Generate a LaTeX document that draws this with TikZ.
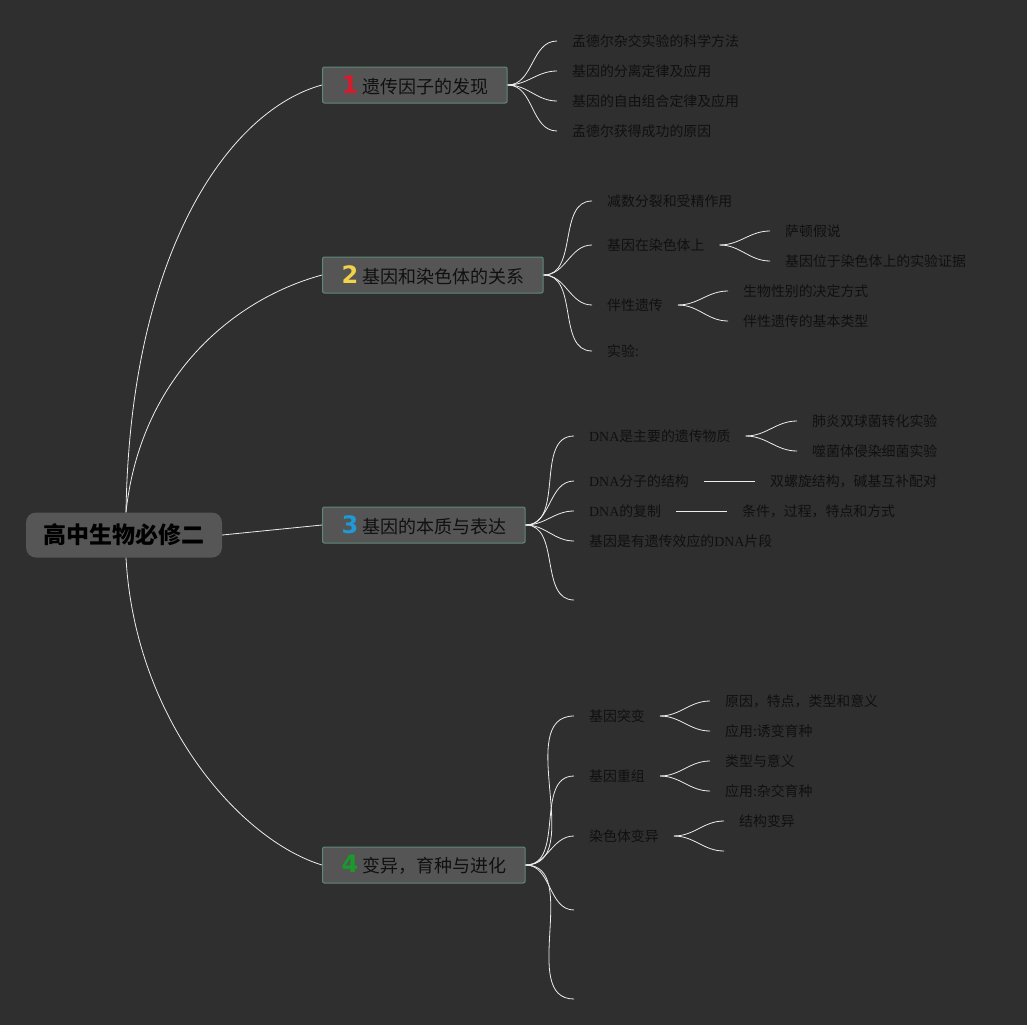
\documentclass[tikz,border=0pt]{standalone}
\usepackage{fontspec}
\setmainfont{Liberation Serif}
\newfontfamily\cjk{Noto Sans CJK SC}
\newfontfamily\numfont{DejaVu Sans}
\newcommand{\lat}[1]{{\rmfamily #1}}
\definecolor{mapbg}{HTML}{2F2F2F}
\definecolor{topicfill}{HTML}{555555}
\definecolor{topicdraw}{HTML}{5F8A78}
\definecolor{rootfill}{HTML}{565656}
\definecolor{inkcolor}{HTML}{101010}
\definecolor{linkcolor}{HTML}{EDEDED}
\definecolor{numred}{HTML}{D81A2E}
\definecolor{numyellow}{HTML}{F2D24A}
\definecolor{numblue}{HTML}{1E9AD6}
\definecolor{numgreen}{HTML}{1A9A2A}
\tikzset{
    x={1pt},
    y={-1pt},
    map background/.style={
        fill=mapbg,
    },
    root topic/.style={
        fill=rootfill,
        rounded corners={10pt},
        minimum width={196},
        minimum height={45},
        font={\cjk\fontsize{23}{25}\selectfont\bfseries},
        text=black,
    },
    main topic/.style={
        fill=topicfill, draw=topicdraw,
        line width={1pt},
        rounded corners={2pt},
        anchor=west,
        minimum height={36},
        inner xsep=19pt,
        inner ysep=0pt,
        font={\cjk\fontsize{18}{20}\selectfont},
        text=inkcolor,
    },
    leaf/.style={
        anchor=west,
        inner xsep=15pt,
        inner ysep=2pt,
        font={\cjk\fontsize{13.9}{15}\selectfont},
        text=inkcolor,
    },
    link/.style={
        draw=linkcolor,
        line width={0.8pt},
    },
}
\newcommand{\topicnum}[2]{{\numfont\bfseries\fontsize{24}{24}\selectfont\color{#1}#2}\hspace{4pt}}

\begin{document}
\begin{tikzpicture}
% background
\path[map background] (0,0) rectangle (1027,1025);
\useasboundingbox (0,0) rectangle (1027,1025);
% root and main topics
\node[root topic] (root) at (124,535) {高中生物必修二};
\node[main topic] (t1) at (322,85) {\topicnum{numred}{1}遗传因子的发现};
\node[main topic] (t2) at (322,275) {\topicnum{numyellow}{2}基因和染色体的关系};
\node[main topic] (t3) at (322,525) {\topicnum{numblue}{3}基因的本质与表达};
\node[main topic] (t4) at (322,865) {\topicnum{numgreen}{4}变异，育种与进化};
% topic 1
\node[leaf] (l11) at (557,41) {孟德尔杂交实验的科学方法};
\node[leaf] (l12) at (557,71) {基因的分离定律及应用};
\node[leaf] (l13) at (557,101) {基因的自由组合定律及应用};
\node[leaf] (l14) at (557,131) {孟德尔获得成功的原因};
% topic 2
\node[leaf] (l21) at (592,201) {减数分裂和受精作用};
\node[leaf] (l22) at (592,245) {基因在染色体上};
\node[leaf] (l23) at (592,305) {伴性遗传};
\node[leaf] (l24) at (592,351) {实验:};
\node[leaf] (l221) at (770,231) {萨顿假说};
\node[leaf] (l222) at (770,261) {基因位于染色体上的实验证据};
\node[leaf] (l231) at (728,291) {生物性别的决定方式};
\node[leaf] (l232) at (728,321) {伴性遗传的基本类型};
% topic 3
\node[leaf] (l31) at (574,436) {\lat{DNA}是主要的遗传物质};
\node[leaf] (l32) at (574,481) {\lat{DNA}分子的结构};
\node[leaf] (l33) at (574,511) {\lat{DNA}的复制};
\node[leaf] (l34) at (574,541) {基因是有遗传效应的\lat{DNA}片段};
\coordinate (l35) at (574,600);
\node[leaf] (l311) at (797,421) {肺炎双球菌转化实验};
\node[leaf] (l312) at (797,451) {噬菌体侵染细菌实验};
\node[leaf] (l321) at (755,481) {双螺旋结构，碱基互补配对};
\node[leaf] (l331) at (727,511) {条件，过程，特点和方式};
% topic 4
\node[leaf] (l41) at (574,716) {基因突变};
\node[leaf] (l42) at (574,776) {基因重组};
\node[leaf] (l43) at (574,836) {染色体变异};
\coordinate (l44) at (574,910);
\coordinate (l45) at (574,999);
\node[leaf] (l411) at (710,701) {原因，特点，类型和意义};
\node[leaf] (l412) at (710,731) {应用:诱变育种};
\node[leaf] (l421) at (710,761) {类型与意义};
\node[leaf] (l422) at (710,791) {应用:杂交育种};
\node[leaf] (l431) at (724,821) {结构变异};
\coordinate (l432) at (724,851);
% links from root
\coordinate (rn) at ([xshift=2]root.north);
\coordinate (rs) at ([xshift=2]root.south);
\draw[link] (rn) .. controls (130,250) and (230,110) .. (t1.west);
\draw[link] (rn) .. controls (140,380) and (230,300) .. (t2.west);
\draw[link] (root.east) -- (t3.west);
\draw[link] (rs) .. controls (135,720) and (240,840) .. (t4.west);
% links from topics
\foreach \leafnode in {l11,l12,l13,l14}
    \draw[link] (t1.east) to[out=0,in=180] (\leafnode.west);
\foreach \leafnode in {l21,l22,l23,l24}
    \draw[link] (t2.east) to[out=0,in=180] (\leafnode.west);
\foreach \leafnode in {l31,l32,l33,l34}
    \draw[link] (t3.east) to[out=0,in=180] (\leafnode.west);
\draw[link] (t3.east) to[out=0,in=180] (l35);
\foreach \leafnode in {l41,l42,l43}
    \draw[link] (t4.east) to[out=0,in=180] (\leafnode.west);
\draw[link] (t4.east) to[out=0,in=180] (l44);
\draw[link] (t4.east) to[out=0,in=180] (l45);
% links from subtopics
\draw[link] (l22.east) to[out=0,in=180] (l221.west);
\draw[link] (l22.east) to[out=0,in=180] (l222.west);
\draw[link] (l23.east) to[out=0,in=180] (l231.west);
\draw[link] (l23.east) to[out=0,in=180] (l232.west);
\draw[link] (l31.east) to[out=0,in=180] (l311.west);
\draw[link] (l31.east) to[out=0,in=180] (l312.west);
\draw[link] (l32.east) -- (l321.west);
\draw[link] (l33.east) -- (l331.west);
\draw[link] (l41.east) to[out=0,in=180] (l411.west);
\draw[link] (l41.east) to[out=0,in=180] (l412.west);
\draw[link] (l42.east) to[out=0,in=180] (l421.west);
\draw[link] (l42.east) to[out=0,in=180] (l422.west);
\draw[link] (l43.east) to[out=0,in=180] (l431.west);
\draw[link] (l43.east) to[out=0,in=180] (l432);
\end{tikzpicture}
\end{document}
